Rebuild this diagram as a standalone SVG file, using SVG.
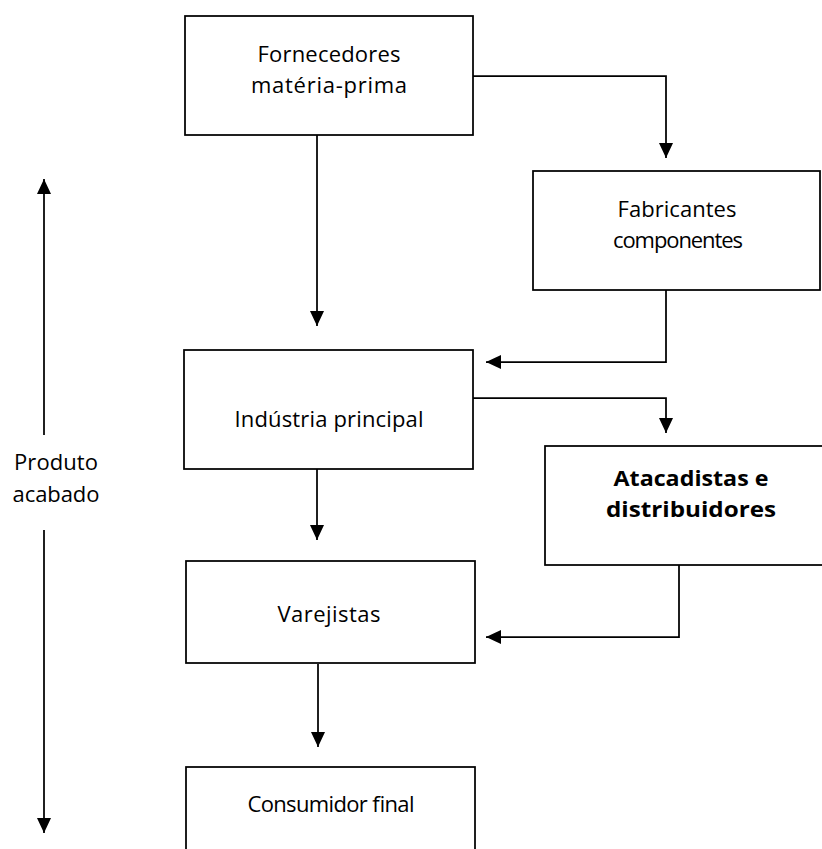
<svg xmlns="http://www.w3.org/2000/svg" width="822" height="849" viewBox="0 0 822 849">
  <style>
    .box { fill: #ffffff; stroke: #000000; stroke-width: 1.75; }
    .link { fill: none; stroke: #000000; stroke-width: 1.75; marker-end: url(#head); }
    .lbl { font-family: "Open Sans", "Noto Sans", "Liberation Sans", sans-serif; font-size: 22px; fill: #000000; text-anchor: middle; }
    .bold { font-weight: bold; }
  </style>
  <defs>
    <marker id="head" markerUnits="userSpaceOnUse" markerWidth="16" markerHeight="16" refX="15" refY="7" orient="auto">
      <path d="M0,0 L15,7 L0,14 Z" fill="#000000"/>
    </marker>
  </defs>
  <rect width="822" height="849" fill="#ffffff"/>

  <!-- flow connectors -->
  <g id="connectors">
    <path class="link" d="M473,76 H666 V158"/>
    <path class="link" d="M317,135 V326"/>
    <path class="link" d="M666,290 V362 H486"/>
    <path class="link" d="M473,398 H666 V433"/>
    <path class="link" d="M317,469 V540"/>
    <path class="link" d="M679,565 V637 H486"/>
    <path class="link" d="M318,664 V747"/>
    <!-- finished-product axis -->
    <path class="link" d="M44,435 V179"/>
    <path class="link" d="M44,530 V833"/>
  </g>

  <g id="fornecedores">
    <rect class="box" x="185" y="16" width="288" height="119"/>
    <text class="lbl" x="329" y="62" textLength="143">Fornecedores</text>
    <text class="lbl" x="329" y="93" textLength="156">matéria-prima</text>
  </g>

  <g id="fabricantes">
    <rect class="box" x="533" y="171" width="287" height="119"/>
    <text class="lbl" x="677" y="217" textLength="119">Fabricantes</text>
    <text class="lbl" x="678" y="248" textLength="130">componentes</text>
  </g>

  <g id="industria">
    <rect class="box" x="184" y="350" width="289" height="119"/>
    <text class="lbl" x="329" y="427" textLength="189">Indústria principal</text>
  </g>

  <g id="atacadistas">
    <rect class="box" x="545" y="446" width="300" height="119"/>
    <text class="lbl bold" x="691" y="486" textLength="155" lengthAdjust="spacingAndGlyphs">Atacadistas e</text>
    <text class="lbl bold" x="691" y="517" textLength="170" lengthAdjust="spacingAndGlyphs">distribuidores</text>
  </g>

  <g id="varejistas">
    <rect class="box" x="186" y="561" width="289" height="102"/>
    <text class="lbl" x="329" y="622" textLength="103">Varejistas</text>
  </g>

  <g id="consumidor">
    <rect class="box" x="186" y="767" width="289" height="100"/>
    <text class="lbl" x="331" y="812" textLength="167">Consumidor final</text>
  </g>

  <g id="produto-acabado">
    <text class="lbl" x="56" y="470" textLength="84">Produto</text>
    <text class="lbl" x="56" y="502" textLength="87">acabado</text>
  </g>
</svg>
